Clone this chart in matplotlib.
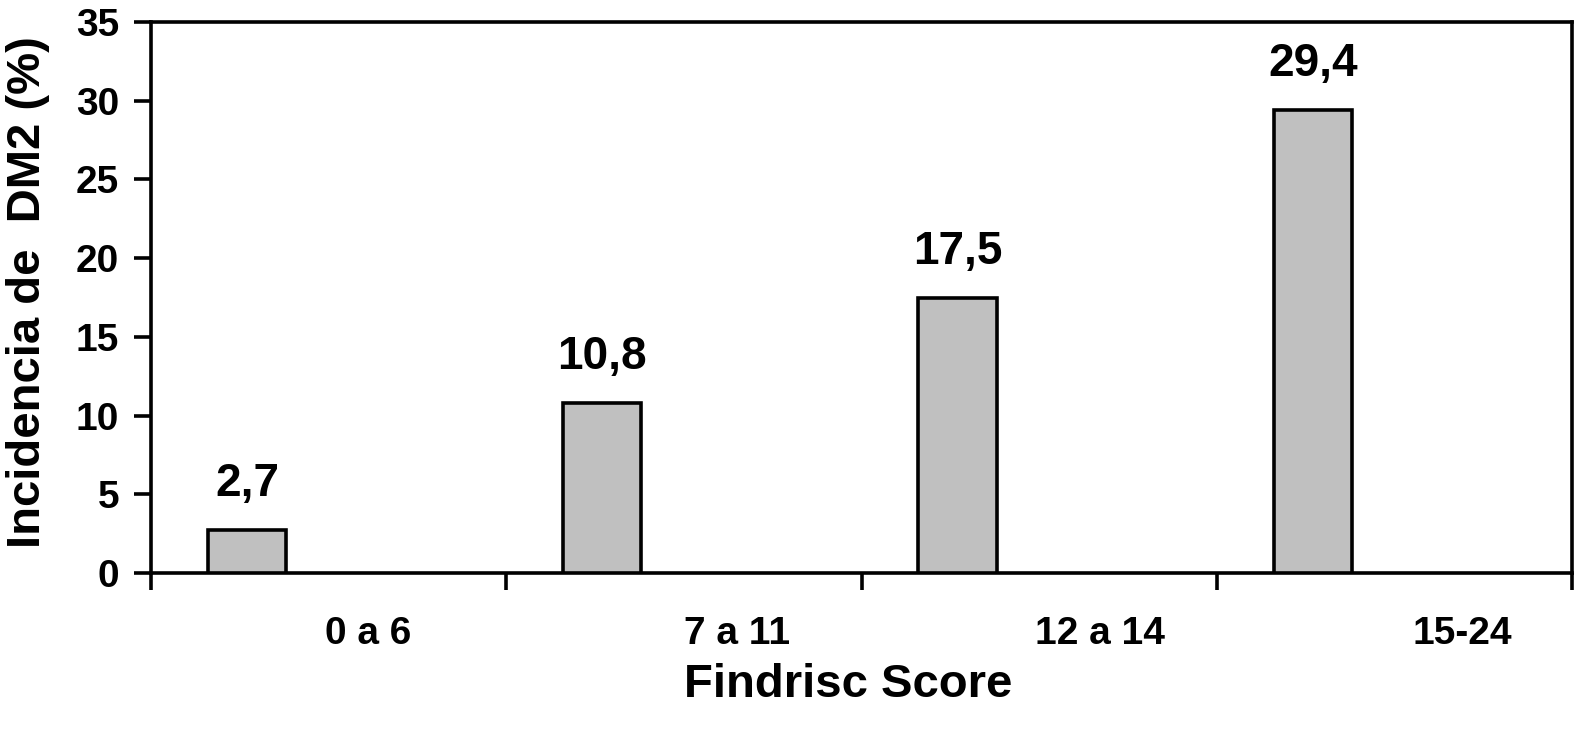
import matplotlib
matplotlib.use("Agg")
import matplotlib.pyplot as plt
import numpy as np

# ----------------------------------------------------------------------
# Data
# ----------------------------------------------------------------------
categories = ["0 a 6", "7 a 11", "12 a 14", "15-24"]
incidence = [2.7, 10.8, 17.5, 29.4]
value_labels = ["2,7", "10,8", "17,5", "29,4"]
y_ticks = [0, 5, 10, 15, 20, 25, 30, 35]

# layout: where the bar and the category label sit inside each slot
BAR_OFFSET = 0.27
BAR_WIDTH = 0.22
LABEL_OFFSETS = [0.61, 0.65, 0.67, 0.69]

# ----------------------------------------------------------------------
# Figure setup
# ----------------------------------------------------------------------
plt.rcParams["font.family"] = ["Liberation Sans", "DejaVu Sans"]
plt.rcParams["font.weight"] = "bold"

fig = plt.figure(figsize=(15.76, 7.36), dpi=100)
ax = fig.add_axes([0.0958, 0.2215, 0.9017, 0.7485])

slots = np.arange(len(categories))
bar_pos = slots + BAR_OFFSET
label_pos = slots + np.array(LABEL_OFFSETS)

ax.bar(bar_pos, incidence, width=BAR_WIDTH, color="#c0c0c0",
       edgecolor="black", linewidth=2.6, zorder=3)

for x, v, lab in zip(bar_pos, incidence, value_labels):
    ax.annotate(lab, (x, v), xytext=(0, 24.5), textcoords="offset points",
                ha="center", va="baseline", fontsize=33, fontweight="bold")

ax.set_xlim(0, len(categories))
ax.set_ylim(0, 35)
ax.set_yticks(y_ticks)

# ticks on slot boundaries, category names inside each slot
ax.set_xticks(np.arange(len(categories) + 1))
ax.set_xticklabels([])
ax.set_xticks(label_pos, minor=True)
ax.set_xticklabels(categories, minor=True)

ax.tick_params(axis="x", which="major", length=12, width=2.6, direction="out")
ax.tick_params(axis="x", which="minor", length=0, pad=31, labelsize=28)
ax.tick_params(axis="y", length=12, width=2.6, direction="out", pad=11,
               labelsize=28)

for s in ax.spines.values():
    s.set_linewidth(2.6)

ax.set_xlabel("Findrisc Score", fontsize=34, fontweight="bold")
ax.xaxis.set_label_coords(0.4905, -0.163)
ax.set_ylabel("Incidencia de  DM2 (%)", fontsize=34, fontweight="bold")
ax.yaxis.set_label_coords(-0.071, 0.51)

fig.savefig("out.png", dpi=100)
